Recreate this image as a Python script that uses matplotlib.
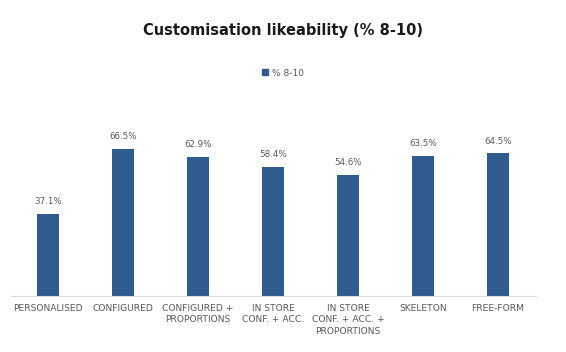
import matplotlib
matplotlib.use("Agg")
import matplotlib.pyplot as plt
from matplotlib.patches import Patch

categories = [
    "PERSONALISED",
    "CONFIGURED",
    "CONFIGURED +\nPROPORTIONS",
    "IN STORE\nCONF. + ACC.",
    "IN STORE\nCONF. + ACC. +\nPROPORTIONS",
    "SKELETON",
    "FREE-FORM",
]
values = [37.1, 66.5, 62.9, 58.4, 54.6, 63.5, 64.5]
series_name = "% 8-10"

BAR = "#2f5b8f"
GREY = "#595959"

fig = plt.figure(figsize=(5.66, 3.52), dpi=100)
ax = fig.add_axes([10.5 / 566, 56 / 352, 525 / 566, 177 / 352])

x = list(range(len(categories)))
ax.bar(x, values, width=0.3, color=BAR)
for xi, v in zip(x, values):
    ax.text(xi, v + 3.5, f"{v:.1f}%", ha="center", va="bottom", fontsize=6.3, color=GREY)

ax.set_xlim(-0.5, len(categories) - 0.5)
ax.set_ylim(0, 80)
ax.set_yticks([])
ax.set_xticks(x)
ax.set_xticklabels(categories, fontsize=6.6, color=GREY, linespacing=1.3)
ax.tick_params(axis="x", length=0, pad=6)
for side in ("left", "right", "top"):
    ax.spines[side].set_visible(False)
ax.spines["bottom"].set_color("#d9d9d9")
ax.spines["bottom"].set_linewidth(0.8)

fig.text(0.5, 1 - 30 / 352, "Customisation likeability (% 8-10)", ha="center", va="center",
         fontsize=10.5, fontweight="bold", color="#1a1a1a")
fig.legend(handles=[Patch(color=BAR, label=series_name)], loc="center",
           bbox_to_anchor=(0.5, 1 - 73 / 352), frameon=False, fontsize=6.5,
           handlelength=0.6, handleheight=0.6, handletextpad=0.4, labelcolor=GREY)

fig.savefig("out.png", dpi=100)
